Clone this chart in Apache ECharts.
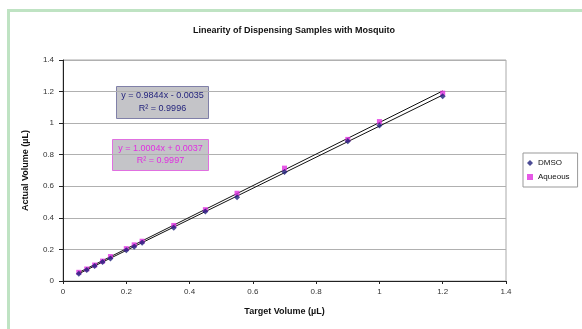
<!DOCTYPE html>
<html>
<head>
<meta charset="utf-8">
<script src="https://cdn.jsdelivr.net/npm/echarts@6/dist/echarts.min.js"></script>
<style>
  html, body { margin: 0; padding: 0; background: #fff; }
  #chart { width: 582px; height: 329px; }
</style>
</head>
<body>
<div id="chart"></div>
<script>
// target volumes (µL)
const targetVol = [0.05, 0.075, 0.1, 0.125, 0.15, 0.2, 0.225, 0.25, 0.35, 0.45, 0.55, 0.7, 0.9, 1.0, 1.2];
// actual volumes
const dmsoVol = [0.046, 0.07, 0.095, 0.12, 0.142, 0.195, 0.217, 0.243, 0.338, 0.44, 0.53, 0.69, 0.885, 0.985, 1.17];
const aqueousVol = [0.055, 0.076, 0.101, 0.126, 0.155, 0.205, 0.229, 0.252, 0.352, 0.452, 0.556, 0.715, 0.897, 1.01, 1.19];
// trendline ends
const dmsoTrend = [[0.05, 0.046], [1.2, 1.178]];
const aqueousTrend = [[0.05, 0.054], [1.2, 1.204]];

const font = 'Liberation Sans, Arial, sans-serif';
const navy = '#1f1f7a';
const pink = '#e030e0';

const chart = echarts.init(document.getElementById('chart'));

const pair = (xs, ys) => xs.map((x, i) => [x, ys[i]]);

const option = {
  backgroundColor: '#ffffff',
  animation: false,
  title: {
    text: 'Linearity of Dispensing Samples with Mosquito',
    left: 289, top: 21, textAlign: 'center',
    textStyle: { fontFamily: font, fontSize: 9, fontWeight: 'bold', color: '#111' }
  },
  grid: { left: 63, right: 76, top: 60, bottom: 48, show: true, borderColor: '#aaa', borderWidth: 1 },
  legend: {
    orient: 'vertical', left: 523, top: 153,
    data: ['DMSO', 'Aqueous'],
    itemWidth: 6, itemHeight: 6, itemGap: 6,
    padding: [6, 8, 6, 4],
    borderColor: '#999', borderWidth: 1,
    textStyle: { fontFamily: font, fontSize: 8, color: '#111' }
  },
  xAxis: {
    type: 'value', min: 0, max: 1.4, interval: 0.2,
    name: 'Target Volume (µL)', nameLocation: 'middle', nameGap: 26,
    nameTextStyle: { fontFamily: font, fontSize: 9, fontWeight: 'bold', color: '#111' },
    axisLine: { lineStyle: { color: '#222' } },
    axisTick: { show: true, length: 3, lineStyle: { color: '#222' } },
    axisLabel: { fontFamily: font, fontSize: 8, color: '#333', margin: 7,
      formatter: v => String(+v.toFixed(1)) },
    splitLine: { show: false }
  },
  yAxis: {
    type: 'value', min: 0, max: 1.4, interval: 0.2,
    name: 'Actual Volume (µL)', nameLocation: 'middle', nameGap: 33,
    nameTextStyle: { fontFamily: font, fontSize: 9, fontWeight: 'bold', color: '#111' },
    axisLine: { show: true, lineStyle: { color: '#222' } },
    axisTick: { show: true, length: 4, lineStyle: { color: '#222' } },
    axisLabel: { fontFamily: font, fontSize: 8, color: '#333', margin: 9,
      formatter: v => String(+v.toFixed(1)) },
    splitLine: { show: true, lineStyle: { color: '#b0b0b0', width: 1 } }
  },
  series: [
    {
      name: 'DMSO trend', type: 'line', data: dmsoTrend, symbol: 'none',
      lineStyle: { color: '#111', width: 1 }, z: 2, silent: true
    },
    {
      name: 'Aqueous trend', type: 'line', data: aqueousTrend, symbol: 'none',
      lineStyle: { color: '#111', width: 1 }, z: 2, silent: true
    },
    {
      name: 'DMSO', type: 'scatter', data: pair(targetVol, dmsoVol),
      symbol: 'diamond', symbolSize: 6, itemStyle: { color: navy }, z: 4
    },
    {
      name: 'Aqueous', type: 'scatter', data: pair(targetVol, aqueousVol),
      symbol: 'rect', symbolSize: 5, itemStyle: { color: pink }, z: 3
    }
  ],
  graphic: [
    // green frame
    { type: 'rect', shape: { x: 7, y: 9, width: 575, height: 3 }, style: { fill: '#bfe3c3' } },
    { type: 'rect', shape: { x: 7, y: 9, width: 3, height: 320 }, style: { fill: '#bfe3c3' } },
    // DMSO equation box
    {
      type: 'group', left: 116, top: 86, z: 10,
      children: [
        { type: 'rect', shape: { x: 0, y: 0, width: 92, height: 32 },
          style: { fill: '#c4c4c8', stroke: '#8080a8', lineWidth: 1 } },
        { type: 'text', x: 46, y: 5, style: { text: 'y = 0.9844x - 0.0035', fill: navy,
          font: '9px ' + font, textAlign: 'center' } },
        { type: 'text', x: 46, y: 18, style: { text: 'R² = 0.9996', fill: navy,
          font: '9px ' + font, textAlign: 'center' } }
      ]
    },
    // Aqueous equation box
    {
      type: 'group', left: 112, top: 139, z: 10,
      children: [
        { type: 'rect', shape: { x: 0, y: 0, width: 96, height: 31 },
          style: { fill: '#c4c4c8', stroke: '#e070e0', lineWidth: 1 } },
        { type: 'text', x: 48, y: 5, style: { text: 'y = 1.0004x + 0.0037', fill: pink,
          font: '9px ' + font, textAlign: 'center' } },
        { type: 'text', x: 48, y: 17, style: { text: 'R² = 0.9997', fill: pink,
          font: '9px ' + font, textAlign: 'center' } }
      ]
    }
  ]
};

chart.setOption(option);
</script>
</body>
</html>
